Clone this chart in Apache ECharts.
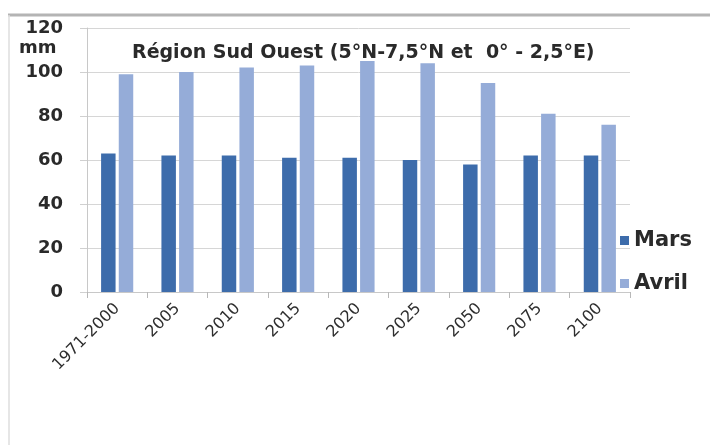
<!DOCTYPE html>
<html><head><meta charset="utf-8">
<script src="https://cdn.jsdelivr.net/npm/echarts@6/dist/echarts.min.js"></script>
<style>html,body{margin:0;padding:0;background:#fff}#c{width:710px;height:445px}</style>
</head><body><div id="c"></div>
<script>
const categories = ['1971-2000','2005','2010','2015','2020','2025','2050','2075','2100'];
const mars = [63, 62, 62, 61, 61, 60, 58, 62, 62];
const avril = [99, 100, 102, 103, 105, 104, 95, 81, 76];
const seriesNames = ['Mars', 'Avril'];
const titleText = 'Région Sud Ouest (5°N-7,5°N et  0° - 2,5°E)';
const unitLabel = 'mm';

const chart = echarts.init(document.getElementById('c'), null, {renderer:'canvas'});
const font = 'DejaVu Sans, sans-serif';
chart.setOption({
  animation: false,
  backgroundColor: '#fff',
  title: {
    text: titleText, left: 127, top: 39,
    textStyle: {fontFamily: font, fontSize: 19, fontWeight: 'bold', color: '#2a2a2a'}
  },
  legend: {
    orient: 'vertical', left: 615, top: 225, itemGap: 22,
    itemWidth: 9, itemHeight: 9, icon: 'rect',
    textStyle: {fontFamily: font, fontSize: 21, fontWeight: 'bold', color: '#2a2a2a'},
    data: seriesNames
  },
  graphic: [
    {type: 'line', shape: {x1: 8, y1: 15, x2: 710, y2: 15}, style: {stroke: '#b4b4b4', lineWidth: 3}},
    {type: 'line', shape: {x1: 9, y1: 15, x2: 9, y2: 445}, style: {stroke: '#dedede', lineWidth: 1.5}},
    {type: 'text', left: 19, top: 39, style: {text: unitLabel, font: 'bold 18px ' + font, fill: '#2a2a2a'}}
  ],
  grid: {left: 87, right: 80, top: 28, bottom: 153},
  xAxis: {
    type: 'category', data: categories,
    axisLine: {lineStyle: {color: '#c8c8c8'}},
    axisTick: {show: true, length: 6, lineStyle: {color: '#b8b8b8'}},
    axisLabel: {rotate: 45, fontFamily: font, fontSize: 16, color: '#2e2e2e', margin: 14, interval: 0}
  },
  yAxis: {
    type: 'value', min: 0, max: 120, interval: 20,
    axisLine: {show: true, lineStyle: {color: '#c8c8c8'}},
    axisTick: {show: true, length: 7, lineStyle: {color: '#d0d0d0'}},
    splitLine: {lineStyle: {color: '#d6d6d6'}},
    axisLabel: {fontFamily: font, fontSize: 18, fontWeight: 'bold', color: '#2a2a2a', margin: 24}
  },
  series: [
    {name: seriesNames[0], type: 'bar', data: mars, barWidth: '24%', barGap: '22%',
     itemStyle: {color: '#3d6cab'}},
    {name: seriesNames[1], type: 'bar', data: avril, barWidth: '24%',
     itemStyle: {color: '#95acd8'}}
  ]
});
</script></body></html>
